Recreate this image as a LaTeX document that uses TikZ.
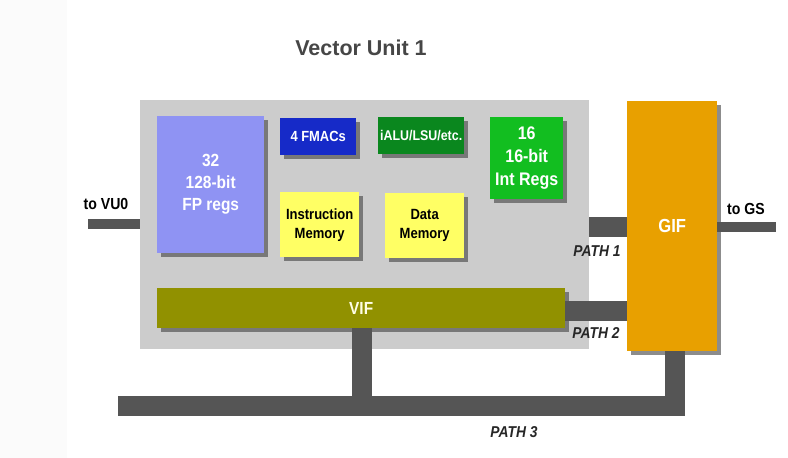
\documentclass[tikz,border=0pt]{standalone}
\usepackage{fontspec}
\setmainfont{Liberation Sans}[FakeStretch=0.88]
\newfontfamily\titlefont{Liberation Sans}
\usepackage{xcolor}
\usetikzlibrary{positioning,shadows}
\definecolor{unitgray}{RGB}{204,204,204}
\definecolor{busgray}{RGB}{85,85,85}
\definecolor{fpblue}{RGB}{143,147,243}
\definecolor{fmacblue}{RGB}{22,42,200}
\definecolor{alugreen}{RGB}{10,135,30}
\definecolor{intgreen}{RGB}{18,190,32}
\definecolor{memyellow}{RGB}{255,255,100}
\definecolor{vifolive}{RGB}{145,145,0}
\definecolor{giforange}{RGB}{232,160,0}
\definecolor{titlegray}{RGB}{70,70,70}
\newcommand{\fsz}[2]{\fontsize{#1}{#2}\selectfont\bfseries}

\begin{document}
\begin{tikzpicture}[x=1pt,y=-1pt,
  blk/.style={anchor=north west,inner sep=0pt,align=center,text=white,
    drop shadow={shadow xshift=4pt,shadow yshift=-4pt,fill=black!75,opacity=.6}},
  mem/.style={blk,fill=memyellow,text=black,minimum width=79pt,minimum height=65pt,
    font=\fsz{14.8}{19}},
  bus/.style={draw=busgray,line width=20pt},
  wire/.style={bus,line width=10pt},
  lbl/.style={inner sep=0pt,font=\fsz{16}{18}},
  pathlbl/.style={lbl,font=\fsz{15.7}{18}\itshape,text=black!85}]
\useasboundingbox (0,0) rectangle (788,458);
\fill[black!1.5] (0,0) rectangle (67,458);
\node[lbl,text=titlegray,font=\titlefont\fsz{21.5}{24}] (title) at (361,48) {Vector Unit 1};
% vector unit and its blocks
\node[anchor=north west,inner sep=0pt,fill=unitgray,minimum width=449pt,
  minimum height=249pt] (unit) at (140,100) {};
\node[blk,fill=fpblue,minimum width=107pt,minimum height=137pt,font=\fsz{17.6}{22}]
  (fpregs) at (157,116) {32\\128-bit\\FP regs};
\node[blk,fill=fmacblue,minimum width=76pt,minimum height=37pt,font=\fsz{14.7}{17}]
  (fmacs) at (280,118) {4 FMACs};
\node[blk,fill=alugreen,minimum width=86pt,minimum height=37pt,font=\fsz{14.1}{17}]
  (alu) at (378,117) {iALU/LSU/etc.};
\node[blk,fill=intgreen,minimum width=73pt,minimum height=82pt,font=\fsz{18.2}{23}]
  (intregs) at (490,117) {16\\16-bit\\Int Regs};
\node[mem] (imem) at (280,192) {Instruction\\Memory};
\node[mem] (dmem) at (385,193) {Data\\Memory};
\node[blk,fill=vifolive,text=yellow!10,minimum width=408pt,minimum height=40pt,
  font=\fsz{17.5}{20}] (vif) at (157,288) {VIF};
\node[blk,fill=giforange,minimum width=90pt,minimum height=250pt,font=\fsz{18.9}{21}]
  (gif) at (627,101) {GIF};
% buses
\coordinate (vu0) at (88,224);
\coordinate (gs) at (776,227);
\coordinate (p3) at (118,406);
\draw[wire] (vu0) -- (unit.west |- vu0);
\draw[wire] (gif.east |- gs) -- (gs);
\draw[bus] (unit.east |- 0,227) -- (gif.west |- 0,227);
\draw[bus] (vif.east |- 0,310.5) -- (gif.west |- 0,310.5);
\draw[bus] (vif.south -| 362,0) -- (362,406);
\draw[bus] (p3) -- (675,406) -- (gif.south -| 675,0);
% labels
\node[lbl] (vu0lbl) at (106,204) {to VU0};
\node[lbl] (gslbl) at (746,209) {to GS};
\node[pathlbl] (path1) at (597,251) {PATH 1};
\node[pathlbl] (path2) at (596,333) {PATH 2};
\node[pathlbl] (path3) at (514,432) {PATH 3};
\end{tikzpicture}
\end{document}
